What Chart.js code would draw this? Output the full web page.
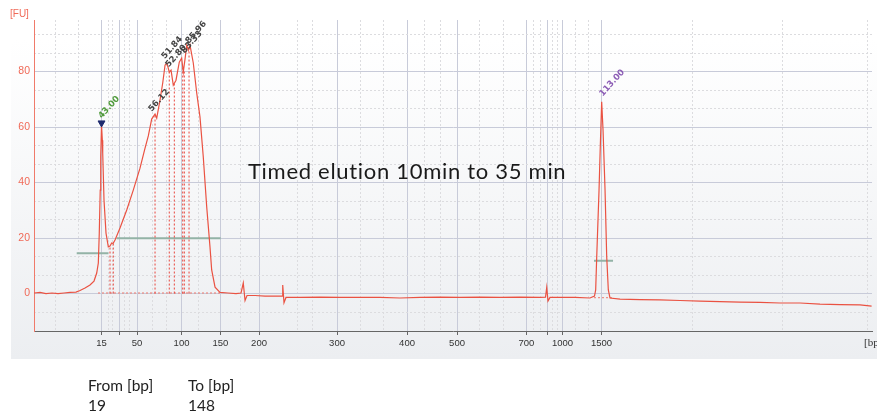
<!DOCTYPE html>
<html>
<head>
<meta charset="utf-8">
<script src="https://cdn.jsdelivr.net/npm/chart.js@4.4.1/dist/chart.umd.min.js"></script>
<style>
  body { margin: 0; background: #fff; }
  #wrap { position: relative; width: 877px; height: 411px; overflow: hidden; }
  canvas { position: absolute; left: 0; top: 0; }
  .lbl { position: absolute; white-space: nowrap; line-height: 1; }
  #fu { left: 10px; top: 8px; font: 10px "Liberation Sans", sans-serif; color: #f06a58; }
  #bp { left: 864px; top: 336px; font: 11px "Liberation Serif", serif; color: #333; }
  #note { left: 248px; top: 157px; font: 22px Lato, sans-serif; letter-spacing: 0.7px; color: #1a1a1a; }
  .tbl { font: 15.5px Lato, sans-serif; color: #222; }
</style>
</head>
<body>
<div id="wrap">
  <canvas id="chart" width="877" height="411"></canvas>
  <div class="lbl" id="fu">[FU]</div>
  <div class="lbl" id="bp">[bp]</div>
  <div class="lbl" id="note">Timed elution 10min to 35 min</div>
  <div class="lbl tbl" style="left:88px; top:376px;">From [bp]</div>
  <div class="lbl tbl" style="left:188px; top:376px;">To [bp]</div>
  <div class="lbl tbl" style="left:88px; top:396px;">19</div>
  <div class="lbl tbl" style="left:188px; top:396px;">148</div>
</div>
<script>
// trace: migration time (s) -> fluorescence [FU]
let timeSec = [20.0, 20.75, 21.5, 22.25, 23.0, 23.75, 24.5, 25.25, 25.75, 26.38, 27.0, 27.5, 27.84, 28.04, 28.16, 28.28, 28.34, 28.44, 28.54, 28.59,
  28.75, 29.0, 29.29, 29.5, 29.71, 29.88, 30.13, 30.75, 31.59, 32.41, 33.25, 33.88, 34.29, 34.71, 35.13, 35.34, 35.75, 36.09, 36.38, 36.59,
  36.75, 36.91, 37.13, 37.41, 37.75, 38.16, 38.46, 38.66, 38.91, 39.09, 39.29, 39.5, 39.91, 40.34, 40.75, 41.16, 41.59, 42.0, 42.21, 42.63,
  43.25, 44.25, 45.25, 45.88, 46.16, 46.38, 46.63, 47.63, 48.88, 50.13, 51.0, 51.09, 51.25, 51.5, 53.25, 55.75, 58.25, 60.75, 63.25, 65.75,
  68.25, 70.75, 73.25, 75.75, 78.25, 80.75, 83.25, 83.94, 84.09, 84.25, 84.5, 85.75, 87.63, 89.5, 90.06, 90.21, 90.34, 90.63, 90.81, 90.96,
  91.13, 91.38, 91.59, 91.79, 92.0, 93.25, 95.75, 98.25, 100.75, 103.25, 105.75, 108.25, 110.75, 113.25, 115.75, 118.25, 120.75, 123.25, 124.7];
let fu = [0.2, 0.4, 0.0, 0.2, 0.0, 0.2, 0.4, 0.5, 1.1, 2.0, 3.1, 4.5, 7.4, 11.0, 21.8, 37.3, 49.2, 60.7, 55.3, 50.6,
  33.7, 21.8, 16.8, 17.1, 18.2, 18.0, 19.3, 23.6, 30.1, 37.3, 45.2, 52.4, 56.8, 62.9, 64.7, 63.2, 69.7, 75.9, 82.3, 83.1,
  81.6, 79.8, 80.5, 75.1, 76.9, 83.4, 84.9, 79.8, 85.2, 89.5, 87.7, 89.5, 83.1, 72.3, 63.6, 49.2, 31.2, 16.8, 8.5, 2.3,
  0.4, 0.2, 0.0, 0.2, 3.8, -2.5, -0.7, -0.7, -0.9, -0.9, -0.9, 3.1, -3.3, -1.4, -1.4, -1.3, -1.4, -1.4, -1.4, -1.6,
  -1.4, -1.3, -1.4, -1.3, -1.4, -1.3, -1.4, -1.3, 2.2, -2.7, -1.4, -1.4, -1.4, -1.6, -0.9, 1.3, 13.2, 37.3, 55.3, 69.1,
  58.9, 37.3, 13.2, 1.3, -1.6, -2.0, -2.2, -2.3, -2.5, -2.7, -2.9, -3.1, -3.2, -3.4, -3.4, -3.8, -4.0, -4.1, -4.5];

// ladder sizes on the x axis
let ladderTimes = [28.44, 30.63, 32.88, 38.44, 43.31, 48.13, 57.88, 66.63, 72.88, 81.56, 84.13, 86.06, 90.94];
let ladderLabels = ['15', '', '50', '100', '150', '200', '300', '400', '500', '700', '', '1000', '1500'];
let minorTimes = [22.63, 25.5, 29.25, 29.75, 31.25, 31.88, 34.75, 36.5, 40.5, 45.75, 52.88, 54.75, 60.75, 63.63, 68.75, 70.75,
  75.75, 78.63, 82.38, 83.25, 84.75, 85.38, 87.63, 89.25, 102.25, 113.5, 124.13];
let fuTicks = [0, 20, 40, 60, 80];
let fuMinor = [-6.67, 6.67, 13.33, 26.67, 33.33, 46.67, 53.33, 66.67, 73.33, 86.67, 93.33];

// called peaks: where the label sits, text, colour
let peakTimes = [28.25, 34.5, 36.13, 36.63, 38.6, 39.13, 90.88];
let peakFU = [63.5, 66, 85, 82, 87, 90.5, 71.5];
let peakNames = ['43.00', '56.12', '51.84', '52.80', '83.33', '85.96', '113.00'];
let peakColors = ['#4f9a3b', '#444', '#444', '#444', '#444', '#444', '#8b5cb5'];

// dotted peak markers (time, height)
let markerTimes = [29.5, 29.91, 35.13, 36.91, 37.54, 38.59, 38.79, 39.38];
let markerHeights = [17, 18, 64.7, 79.8, 75.5, 82, 80, 88.5];

// baselines under the region and the upper marker
let baseStart = [28.0, 90.0];
let baseEnd = [43.3, 92.25];
let baseLevel = [0.2, -1.5];

// green region / marker bars
let barStart = [25.34, 30.34, 90.0];
let barEnd = [29.29, 43.34, 92.38];
let barLevel = [14.5, 19.9, 11.8];

function segments(starts, ends, levels) {
    let pts = [];
    starts.forEach((s, i) => {
        pts.push({x: s, y: levels[i]}, {x: ends[i], y: levels[i]}, {x: ends[i], y: null});
    });
    return pts;
}

let markerPts = [];
markerTimes.forEach((t, i) => {
    markerPts.push({x: t, y: 0}, {x: t, y: markerHeights[i]}, {x: t, y: null});
});

const bgPlugin = {
    id: 'bg',
    beforeDraw(chart) {
        let ctx = chart.ctx;
        ctx.save();
        ctx.fillStyle = '#fff';
        ctx.fillRect(0, 0, chart.width, chart.height);
        let g = ctx.createLinearGradient(0, 40, 0, 359);
        g.addColorStop(0, '#ffffff');
        g.addColorStop(1, '#eceef1');
        ctx.fillStyle = g;
        ctx.fillRect(11, 0, chart.width - 11, 359);
        ctx.restore();
    }
};

const peakLabels = {
    id: 'peakLabels',
    afterDatasetsDraw(chart) {
        let ctx = chart.ctx;
        let xs = chart.scales.x, ys = chart.scales.y;
        ctx.save();
        ctx.font = 'bold 8.5px "DejaVu Sans", sans-serif';
        ctx.textAlign = 'left';
        ctx.textBaseline = 'middle';
        peakNames.forEach((name, i) => {
            ctx.save();
            ctx.translate(xs.getPixelForValue(peakTimes[i]), ys.getPixelForValue(peakFU[i]));
            ctx.rotate(-48 * Math.PI / 180);
            ctx.fillStyle = peakColors[i];
            ctx.fillText(name, 0, 0);
            ctx.restore();
        });
        ctx.restore();
    }
};

const tickFont = {family: '"Liberation Sans", sans-serif', size: 9.5};
// chart area ends at x=872, so this keeps 8 px per second
const timeMax = 124.75;

new Chart(document.getElementById('chart'), {
    type: 'line',
    data: {
        datasets: [
            {
                type: 'scatter',
                data: [{x: 28.44, y: 61.5}],
                pointStyle: 'triangle',
                rotation: 180,
                pointRadius: 4,
                backgroundColor: '#1e2a6e',
                borderColor: '#1e2a6e'
            },
            {
                data: timeSec.map((t, i) => ({x: t, y: fu[i]})),
                borderColor: '#ea5242',
                borderWidth: 1.2,
                pointRadius: 0
            },
            {
                data: markerPts,
                borderColor: '#e8453c',
                borderWidth: 1,
                borderDash: [2, 2],
                pointRadius: 0
            },
            {
                data: segments(baseStart, baseEnd, baseLevel),
                borderColor: '#ee7a6e',
                borderWidth: 1,
                borderDash: [2, 2],
                pointRadius: 0
            },
            {
                data: segments(barStart, barEnd, barLevel),
                borderColor: '#93b3a6',
                borderWidth: 2,
                pointRadius: 0
            }
        ]
    },
    options: {
        responsive: false,
        animation: false,
        events: [],
        layout: {padding: {top: 20, right: 1, left: 0, bottom: 0}},
        plugins: {legend: {display: false}, tooltip: {enabled: false}},
        elements: {line: {tension: 0}, point: {radius: 0}},
        scales: {
            x: {
                type: 'linear', position: 'bottom', min: 20, max: timeMax,
                afterBuildTicks: s => { s.ticks = ladderTimes.map(v => ({value: v})); },
                afterFit: s => { s.height = 80; },
                ticks: {autoSkip: false, maxRotation: 0, padding: 3, color: '#333', font: tickFont,
                    callback: (v, i) => ladderLabels[i]},
                grid: {color: '#c8cbd9', lineWidth: 1, drawTicks: true, tickLength: 4, tickColor: '#666'},
                border: {color: '#666', width: 1}
            },
            xMinor: {
                type: 'linear', position: 'bottom', min: 20, max: timeMax,
                afterBuildTicks: s => { s.ticks = minorTimes.map(v => ({value: v})); },
                afterFit: s => { s.height = 0; },
                ticks: {display: false},
                grid: {color: '#dcdcdf', lineWidth: 1, drawTicks: false},
                border: {display: false, dash: [2, 2]}
            },
            y: {
                type: 'linear', position: 'left', min: -13.5, max: 98.6,
                afterBuildTicks: s => { s.ticks = fuTicks.map(v => ({value: v})); },
                afterFit: s => { s.width = 34; },
                ticks: {padding: 4, color: '#f06a58', font: {family: '"Liberation Sans", sans-serif', size: 10.5}},
                grid: {color: '#c8cbd9', lineWidth: 1, drawTicks: false},
                border: {color: '#f07a6a', width: 1}
            },
            yMinor: {
                type: 'linear', position: 'left', min: -13.5, max: 98.6,
                afterBuildTicks: s => { s.ticks = fuMinor.map(v => ({value: v})); },
                afterFit: s => { s.width = 0; },
                ticks: {display: false},
                grid: {color: '#dcdcdf', lineWidth: 1, drawTicks: false},
                border: {display: false, dash: [2, 2]}
            }
        }
    },
    plugins: [bgPlugin, peakLabels]
});
</script>
</body>
</html>
